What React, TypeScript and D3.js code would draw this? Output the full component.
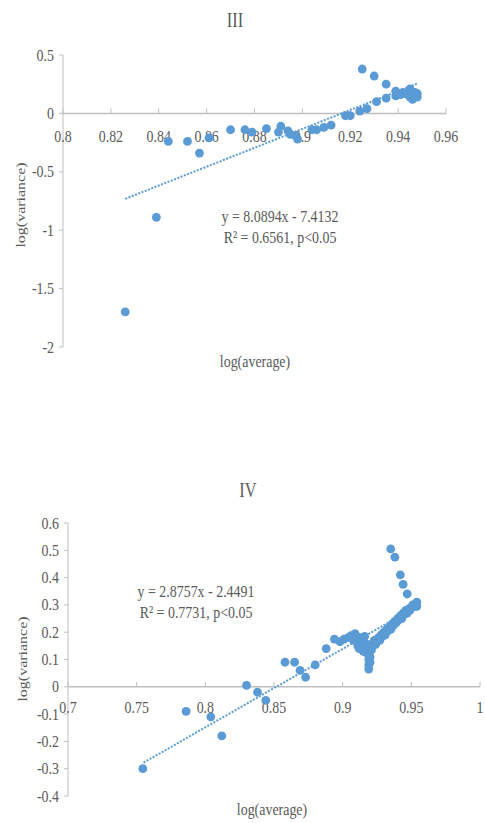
import { useEffect, useRef } from 'react';
import * as d3 from 'd3';

type Pt = [number, number];

// ---- data: panel III ----
const titleIII = 'III';
const ticksXIII = [0.8, 0.82, 0.84, 0.86, 0.88, 0.9, 0.92, 0.94, 0.96];
const ticksYIII = [0.5, 0, -0.5, -1, -1.5, -2];
const pointsIII: Pt[] = [
  [0.826, -1.7], [0.839, -0.89], [0.844, -0.24], [0.852, -0.24], [0.857, -0.34],
  [0.861, -0.21], [0.87, -0.14], [0.876, -0.14], [0.879, -0.16], [0.885, -0.13],
  [0.891, -0.11], [0.89, -0.16], [0.894, -0.15], [0.895, -0.18], [0.897, -0.19],
  [0.898, -0.22], [0.904, -0.14], [0.906, -0.14], [0.909, -0.12], [0.912, -0.1],
  [0.918, -0.02], [0.92, -0.02], [0.924, 0.02], [0.927, 0.04], [0.925, 0.38],
  [0.93, 0.32], [0.931, 0.1], [0.935, 0.13], [0.935, 0.25], [0.939, 0.19],
  [0.939, 0.15], [0.942, 0.18], [0.944, 0.16], [0.945, 0.21], [0.946, 0.15],
  [0.947, 0.18], [0.946, 0.12], [0.947, 0.16], [0.943, 0.17], [0.948, 0.17],
  [0.941, 0.16], [0.945, 0.14], [0.948, 0.14],
];
const fitIII = { slope: 8.0894, intercept: -7.4132, from: 0.826, to: 0.948 };
const eqIII = ['y = 8.0894x - 7.4132', 'R² = 0.6561, p<0.05'];

// ---- data: panel IV ----
const titleIV = 'IV';
const ticksXIV = [0.7, 0.75, 0.8, 0.85, 0.9, 0.95, 1];
const ticksYIV = [0.6, 0.5, 0.4, 0.3, 0.2, 0.1, 0, -0.1, -0.2, -0.3, -0.4];
const pointsIV: Pt[] = [
  [0.7545, -0.3], [0.786, -0.09], [0.804, -0.11], [0.812, -0.18], [0.83, 0.005],
  [0.838, -0.02], [0.844, -0.05], [0.858, 0.09], [0.865, 0.09], [0.869, 0.06],
  [0.873, 0.035], [0.88, 0.08], [0.888, 0.14],
  [0.894, 0.175], [0.898, 0.165], [0.901, 0.175], [0.904, 0.18], [0.906, 0.187],
  [0.909, 0.195], [0.91, 0.185], [0.911, 0.175], [0.912, 0.165], [0.913, 0.155],
  [0.914, 0.15], [0.915, 0.17], [0.916, 0.16], [0.917, 0.145], [0.918, 0.155],
  [0.919, 0.14], [0.92, 0.15], [0.921, 0.135], [0.922, 0.16], [0.919, 0.12],
  [0.919, 0.1], [0.919, 0.08], [0.919, 0.065], [0.92, 0.11], [0.92, 0.09],
  [0.923, 0.17], [0.925, 0.17], [0.924, 0.155], [0.911, 0.15], [0.908, 0.17],
  [0.912, 0.14], [0.915, 0.13], [0.917, 0.125], [0.913, 0.18], [0.916, 0.185],
  [0.926, 0.18], [0.928, 0.19], [0.93, 0.2], [0.932, 0.21], [0.934, 0.22],
  [0.936, 0.23], [0.938, 0.24], [0.94, 0.25], [0.942, 0.26], [0.944, 0.27],
  [0.946, 0.28], [0.948, 0.285], [0.95, 0.29], [0.952, 0.3], [0.954, 0.31],
  [0.953, 0.295], [0.951, 0.3], [0.929, 0.185], [0.933, 0.205], [0.937, 0.225],
  [0.941, 0.245], [0.945, 0.265], [0.949, 0.28], [0.927, 0.17], [0.931, 0.19],
  [0.935, 0.21], [0.939, 0.235], [0.943, 0.25], [0.947, 0.27], [0.954, 0.295],
  [0.935, 0.505], [0.938, 0.475], [0.942, 0.41], [0.944, 0.375], [0.947, 0.34],
];
const fitIV = { slope: 2.8757, intercept: -2.4491, from: 0.755, to: 0.954 };
const eqIV = ['y = 2.8757x - 2.4491', 'R² = 0.7731, p<0.05'];

const xLabel = 'log(average)';
const yLabel = 'log(variance)';

const BLUE = '#5b9bd5';
const AXIS = '#bfbfbf';
const TEXT = '#595959';
const FONT = '"Liberation Serif", "Times New Roman", serif';
const SQ = 0.82; // horizontal squeeze of the source image

interface PanelCfg {
  title: string;
  ticksX: number[];
  ticksY: number[];
  points: Pt[];
  fit: { slope: number; intercept: number; from: number; to: number };
  eq: string[];
  xRange: [number, number];
  yRange: [number, number];
  titlePos: [number, number];
  eqPos: [number, number];
  xLabelPos: [number, number];
  yLabelPos: [number, number];
  tickLabelDy: number;
}

const fmt = (v: number) => String(+v.toFixed(2));

function drawPanel(svg: d3.Selection<SVGSVGElement, unknown, null, undefined>, c: PanelCfg) {
  const x = d3.scaleLinear().domain(d3.extent(c.ticksX) as [number, number]).range(c.xRange);
  const y = d3.scaleLinear().domain(d3.extent(c.ticksY) as [number, number]).range(c.yRange);
  const g = svg.append('g');

  const txt = (s: string, px: number, py: number, size: number, anchor = 'middle') =>
    g.append('text')
      .attr('transform', `translate(${px},${py}) scale(${SQ},1)`)
      .attr('text-anchor', anchor)
      .style('font-family', FONT)
      .style('font-size', `${size}px`)
      .style('fill', TEXT)
      .text(s);

  const x0 = x.domain()[0];
  const yZero = y(0);

  // y axis
  g.append('line')
    .attr('x1', x(x0)).attr('x2', x(x0))
    .attr('y1', y(y.domain()[0])).attr('y2', y(y.domain()[1]))
    .attr('stroke', AXIS).attr('stroke-width', 1);
  c.ticksY.forEach(t => {
    g.append('line')
      .attr('x1', x(x0) - 4).attr('x2', x(x0))
      .attr('y1', y(t)).attr('y2', y(t))
      .attr('stroke', AXIS);
    txt(fmt(t), x(x0) - 9, y(t) + 5.5, 17, 'end');
  });

  // x axis at y = 0
  g.append('line')
    .attr('x1', c.xRange[0]).attr('x2', c.xRange[1])
    .attr('y1', yZero).attr('y2', yZero)
    .attr('stroke', AXIS).attr('stroke-width', 1.5);
  c.ticksX.forEach(t => {
    g.append('line')
      .attr('x1', x(t)).attr('x2', x(t))
      .attr('y1', yZero - 5).attr('y2', yZero)
      .attr('stroke', AXIS);
    txt(fmt(t), x(t), yZero + c.tickLabelDy, 17);
  });

  // points
  g.selectAll('circle.pt')
    .data(c.points)
    .enter()
    .append('circle')
    .attr('class', 'pt')
    .attr('cx', d => x(d[0]))
    .attr('cy', d => y(d[1]))
    .attr('r', 4.4)
    .attr('fill', BLUE);

  // linear trendline (dotted)
  const f = c.fit;
  const line = d3.line<number>()
    .x(v => x(v))
    .y(v => y(f.slope * v + f.intercept));
  g.append('path')
    .attr('d', line([f.from, f.to]) as string)
    .attr('fill', 'none')
    .attr('stroke', BLUE)
    .attr('stroke-width', 2)
    .attr('stroke-dasharray', '2,1.5');

  // texts
  txt(c.title, c.titlePos[0], c.titlePos[1], 20);
  txt(c.eq[0], c.eqPos[0], c.eqPos[1], 17);
  txt(c.eq[1], c.eqPos[0], c.eqPos[1] + 21, 17);
  txt(xLabel, c.xLabelPos[0], c.xLabelPos[1], 17);
  g.append('text')
    .attr('transform', `translate(${c.yLabelPos[0]},${c.yLabelPos[1]}) rotate(-90) scale(1,${SQ})`)
    .attr('text-anchor', 'middle')
    .style('font-family', FONT)
    .style('font-size', '16px')
    .style('fill', TEXT)
    .text(yLabel);
}

export default function App() {
  const ref = useRef<SVGSVGElement>(null);

  useEffect(() => {
    if (!ref.current) return;
    const svg = d3.select(ref.current);
    svg.selectAll('*').remove();

    drawPanel(svg, {
      title: titleIII, ticksX: ticksXIII, ticksY: ticksYIII, points: pointsIII,
      fit: fitIII, eq: eqIII,
      xRange: [63, 446], yRange: [347, 55],
      titlePos: [235, 27], eqPos: [280, 222], xLabelPos: [255, 367], yLabelPos: [25, 205],
      tickLabelDy: 29,
    });
    drawPanel(svg, {
      title: titleIV, ticksX: ticksXIV, ticksY: ticksYIV, points: pointsIV,
      fit: fitIV, eq: eqIV,
      xRange: [68, 480], yRange: [796, 523],
      titlePos: [248, 497], eqPos: [196, 597], xLabelPos: [272, 815], yLabelPos: [27, 659],
      tickLabelDy: 26,
    });
  }, []);

  return (
    <svg
      ref={ref}
      width={485}
      height={823}
      style={{ position: 'absolute', left: 0, top: 0, background: '#fff', display: 'block' }}
    />
  );
}
